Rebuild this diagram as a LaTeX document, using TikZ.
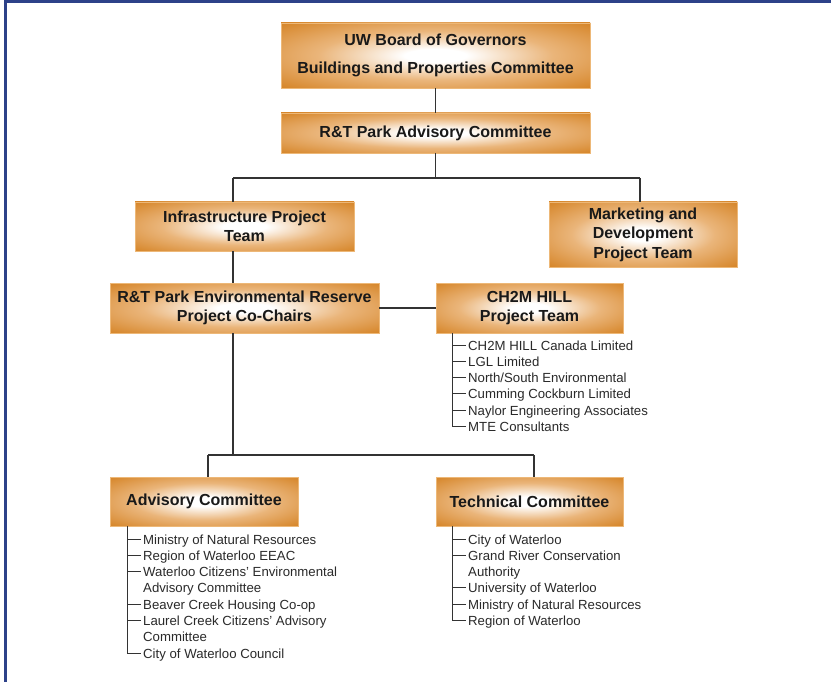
\documentclass[tikz,border=0pt]{standalone}
\usepackage{fontspec}
\setmainfont{Liberation Sans}
\definecolor{boxor}{HTML}{D6862A}
\definecolor{boxmid}{HTML}{EAB57A}
\definecolor{boxedge}{HTML}{EDB878}
\definecolor{framebl}{HTML}{2D4189}
\definecolor{linecol}{HTML}{333333}
\definecolor{listcol}{HTML}{2A2A2A}
\pgfdeclareradialshading{boxglow}{\pgfpoint{0bp}{0bp}}{color(0bp)=(white); color(5bp)=(white); color(19bp)=(boxmid); color(35bp)=(boxor); color(50bp)=(boxor)}
\tikzset{
  orgbox/.style={rectangle, shading=boxglow, draw=boxedge, line width=0.8pt, align=center, inner sep=0pt,
    text=black!90, font=\fontsize{16}{19.5}\selectfont\bfseries},
  conn/.style={draw=linecol, line width=1.1pt},
  listline/.style={draw=linecol, line width=1pt},
  item/.style={anchor=west, inner sep=0pt, text height=10pt, text depth=0pt, text=listcol,
    font=\fontsize{13.2}{16}\selectfont}
}
\begin{document}
\begin{tikzpicture}[x=1pt, y=-1pt]
\useasboundingbox (0,0) rectangle (831,682);
\fill[white] (0,0) rectangle (831,682);
% frame
\draw[framebl, line width=2.6pt] (5.3,682) -- (5.3,1.6) -- (831,1.6);

% boxes
\node[orgbox, minimum width=309pt, minimum height=65pt] (uw) at (435.5,55.5)
  {UW Board of Governors\\[8.5pt]Buildings and Properties Committee};
\node[orgbox, minimum width=309pt, minimum height=40pt] (rt) at (435.5,133) {R\&T Park Advisory Committee};
\node[orgbox, minimum width=219pt, minimum height=49pt] (infra) at (244.5,226.5) {Infrastructure Project\\Team};
\node[orgbox, minimum width=188pt, minimum height=65pt] (mkt) at (643,234.5) {Marketing and\\Development\\Project Team};
\node[orgbox, minimum width=269pt, minimum height=50pt] (env) at (244.5,308) {R\&T Park Environmental Reserve\\Project Co-Chairs};
\node[orgbox, minimum width=187pt, minimum height=50pt] (ch2m) at (529.5,308) {CH2M HILL\\Project Team};
\node[orgbox, minimum width=188pt, minimum height=49pt] (adv) at (204,501.5) {Advisory Committee};
\node[orgbox, minimum width=187pt, minimum height=49pt] (tech) at (529.5,501.5) {Technical Committee};

% bus coordinates
\coordinate (b1L) at (233,178);
\coordinate (b1R) at (640,178);
\coordinate (b2M) at (233,455);
\coordinate (b2L) at (208,455);
\coordinate (b2R) at (534,455);

% connectors
\draw[conn] (uw.south) -- (rt.north);
\draw[conn] (rt.south) -- (rt.south |- b1L);
\draw[conn] (b1L) -- (b1R);
\draw[conn] (b1L) -- (b1L |- infra.north);
\draw[conn] (b1R) -- (b1R |- mkt.north);
\draw[conn] (infra.south -| b1L) -- (env.north -| b1L);
\draw[conn] (env.east) -- (ch2m.west);
\draw[conn] (env.south -| b2M) -- (b2M);
\draw[conn] (b2L) -- (b2R);
\draw[conn] (b2L) -- (b2L |- adv.north);
\draw[conn] (b2R) -- (b2R |- tech.north);

% CH2M list
\node[item] (c1) at (468,345) {CH2M HILL Canada Limited};
\node[item] (c2) at (468,361.3) {LGL Limited};
\node[item] (c3) at (468,377.6) {North/South Environmental};
\node[item] (c4) at (468,393.9) {Cumming Cockburn Limited};
\node[item] (c5) at (468,410.2) {Naylor Engineering Associates};
\node[item] (c6) at (468,426.5) {MTE Consultants};
\coordinate (cx) at (452,0);
\draw[listline] (ch2m.south -| cx) -- (c6.west -| cx);
\foreach \n in {c1,c2,c3,c4,c5,c6}
  \draw[listline] (\n.west -| cx) -- ([xshift=-2pt]\n.west);

% Advisory list
\node[item] (a1) at (143,539) {Ministry of Natural Resources};
\node[item] (a2) at (143,555.3) {Region of Waterloo EEAC};
\node[item] (a3) at (143,571.6) {Waterloo Citizens' Environmental};
\node[item] (a3b) at (143,587.9) {Advisory Committee};
\node[item] (a4) at (143,604.2) {Beaver Creek Housing Co-op};
\node[item] (a5) at (143,620.5) {Laurel Creek Citizens' Advisory};
\node[item] (a5b) at (143,636.8) {Committee};
\node[item] (a6) at (143,653.1) {City of Waterloo Council};
\coordinate (ax) at (127,0);
\draw[listline] (adv.south -| ax) -- (a6.west -| ax);
\foreach \n in {a1,a2,a3,a4,a5,a6}
  \draw[listline] (\n.west -| ax) -- ([xshift=-2pt]\n.west);

% Technical list
\node[item] (t1) at (468,539) {City of Waterloo};
\node[item] (t2) at (468,555.3) {Grand River Conservation};
\node[item] (t2b) at (468,571.6) {Authority};
\node[item] (t3) at (468,587.9) {University of Waterloo};
\node[item] (t4) at (468,604.2) {Ministry of Natural Resources};
\node[item] (t5) at (468,620.5) {Region of Waterloo};
\coordinate (tx) at (452,0);
\draw[listline] (tech.south -| tx) -- (t5.west -| tx);
\foreach \n in {t1,t2,t3,t4,t5}
  \draw[listline] (\n.west -| tx) -- ([xshift=-2pt]\n.west);
\end{tikzpicture}
\end{document}
